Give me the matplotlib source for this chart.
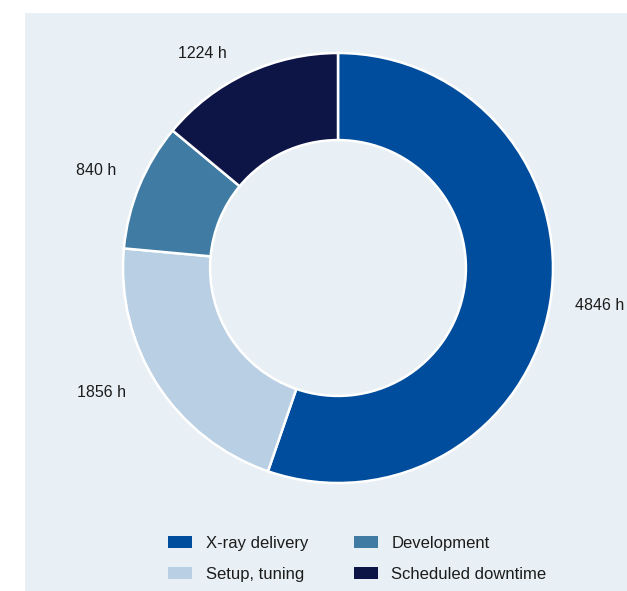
import numpy as np
import matplotlib
matplotlib.use("Agg")
import matplotlib.pyplot as plt
from matplotlib.patches import Rectangle, Patch

categories = ["X-ray delivery", "Setup, tuning", "Development", "Scheduled downtime"]
hours = [4846, 1856, 840, 1224]
colors = ["#004d9e", "#b9cfe3", "#3f7ba2", "#0d1547"]

# fine placement of the value labels (points, relative to the radial anchor)
label_nudge = [(2.2, 4.0), (-11.5, 12.6), (0.0, -2.2), (-17.3, -16.6)]

plt.rcParams["font.family"] = ["Liberation Sans", "DejaVu Sans"]
text_color = "#1c1c1c"

W, H = 627, 591
fig = plt.figure(figsize=(W / 100, H / 100), dpi=100)
fig.patch.set_facecolor("white")

# full-figure axes with equal pixel scale, donut centred at (338, 268) px
R = 215.0
cx, cy = 338.0, H - 268.0
ax = fig.add_axes([0, 0, 1, 1])
ax.axis("off")

# icy backdrop panel
ax.add_patch(Rectangle((25 / W, 0), 1 - 25 / W, (H - 13) / H,
                       transform=ax.transAxes, facecolor="#e9f0f5",
                       edgecolor="none", zorder=0))

wedges, _ = ax.pie(hours, colors=colors, startangle=90, counterclock=False,
                   radius=1.0,
                   wedgeprops=dict(width=0.405, edgecolor="white",
                                   linewidth=1.8, zorder=2),
                   frame=True)

# value labels outside the ring at each wedge's mid angle
for w, h, nudge in zip(wedges, hours, label_nudge):
    mid = np.deg2rad((w.theta1 + w.theta2) / 2)
    r = 1.22
    ax.annotate(f"{h} h", xy=(r * np.cos(mid), r * np.sin(mid)),
                xytext=nudge, textcoords="offset points",
                ha="center", va="center", fontsize=11.5, color=text_color)

ax.set_xlim(-cx / R, (W - cx) / R)
ax.set_ylim(-cy / R, (H - cy) / R)
ax.set_aspect("auto")
ax.axis("off")

handles = [Patch(facecolor=c, edgecolor="none") for c in colors]
fig.legend(handles, categories, ncol=2, loc="upper left",
           bbox_to_anchor=(168 / W, (H - 536) / H), frameon=False,
           fontsize=12, handlelength=1.45, handleheight=0.75,
           handletextpad=0.8, columnspacing=2.75, labelspacing=0.96,
           borderpad=0, borderaxespad=0, labelcolor=text_color)

fig.savefig("out.png", dpi=100, facecolor="white")
